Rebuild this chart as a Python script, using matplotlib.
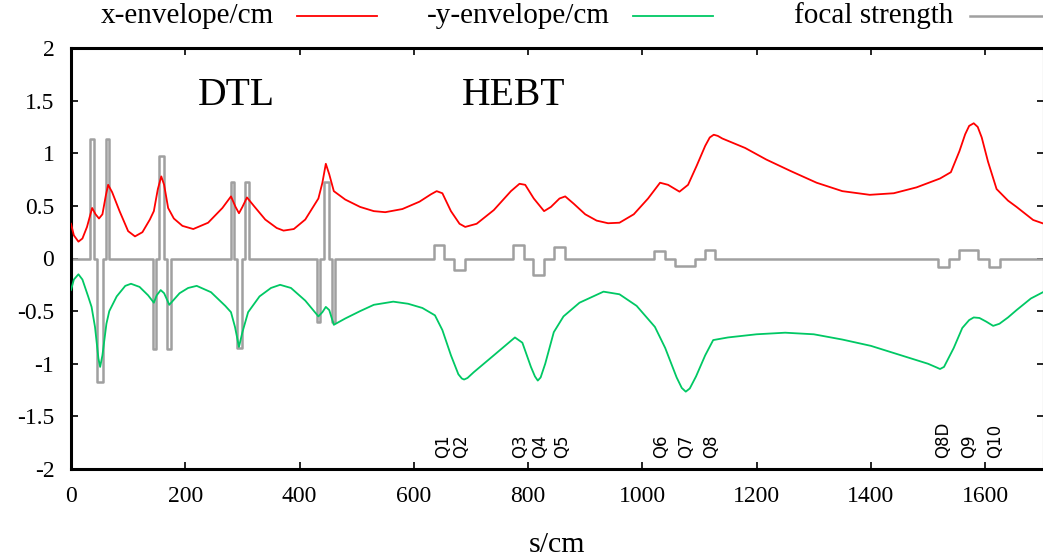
import numpy as np
import matplotlib
matplotlib.use("Agg")
import matplotlib.pyplot as plt
from matplotlib.lines import Line2D

plt.rcParams['axes.unicode_minus'] = False
plt.rcParams['font.family'] = ['Liberation Serif', 'DejaVu Serif']

# x-envelope (cm) along s (cm)
x_s = [0, 5, 13, 20, 28, 37, 43, 49, 55, 61, 65, 72, 85, 100, 112, 125, 138, 145, 152, 158,
       163, 170, 180, 195, 214, 240, 265, 280, 288, 294, 300, 308, 320, 340, 360, 372, 390,
       410, 433, 440, 446, 452, 460, 480, 506, 530, 550, 580, 610, 630, 640, 650, 665, 680,
       690, 710, 740, 770, 785, 795, 810, 828, 840, 855, 865, 880, 900, 920, 940, 960, 985,
       1010, 1031, 1045, 1065, 1080, 1095, 1110, 1118, 1125, 1132, 1140, 1180, 1217, 1260,
       1305, 1350, 1398, 1440, 1480, 1521, 1540, 1555, 1565, 1572, 1580, 1587, 1594, 1605,
       1620, 1640, 1655, 1684, 1703]
x_env = [0.33, 0.22, 0.16, 0.19, 0.30, 0.48, 0.42, 0.38, 0.42, 0.60, 0.70, 0.63, 0.45, 0.26,
         0.21, 0.25, 0.37, 0.45, 0.66, 0.78, 0.70, 0.48, 0.38, 0.31, 0.28, 0.34, 0.48, 0.59,
         0.49, 0.43, 0.49, 0.58, 0.50, 0.37, 0.29, 0.265, 0.28, 0.37, 0.57, 0.72, 0.90, 0.80,
         0.64, 0.56, 0.49, 0.45, 0.44, 0.47, 0.54, 0.61, 0.64, 0.62, 0.45, 0.33, 0.30, 0.33,
         0.46, 0.64, 0.71, 0.70, 0.57, 0.45, 0.49, 0.57, 0.59, 0.52, 0.42, 0.36, 0.335, 0.34,
         0.42, 0.57, 0.72, 0.70, 0.635, 0.70, 0.88, 1.07, 1.15, 1.176, 1.165, 1.14, 1.05, 0.94,
         0.83, 0.72, 0.64, 0.605, 0.62, 0.676, 0.76, 0.82, 1.02, 1.18, 1.26, 1.285, 1.25, 1.15,
         0.92, 0.66, 0.55, 0.49, 0.366, 0.33]

# -y-envelope (cm)
y_s = [0, 5, 13, 20, 30, 36, 42, 48, 51, 55, 62, 67, 80, 95, 105, 120, 135, 145, 150, 157,
       163, 172, 190, 205, 220, 245, 270, 280, 287, 294, 300, 310, 330, 350, 366, 385, 410,
       433, 440, 446, 452, 460, 480, 506, 530, 564, 590, 615, 637, 650, 665, 678, 684, 688,
       694, 705, 740, 777, 790, 805, 812, 817, 822, 830, 845, 862, 890, 932, 960, 990, 1022,
       1040, 1060, 1069, 1076, 1083, 1094, 1110, 1124, 1150, 1200, 1250, 1300, 1350, 1400,
       1450, 1500, 1515, 1521, 1528, 1545, 1560, 1572, 1580, 1590, 1602, 1614, 1625, 1640,
       1655, 1680, 1703]
y_env = [-0.30, -0.20, -0.15, -0.20, -0.36, -0.46, -0.65, -0.95, -1.03, -0.92, -0.62, -0.50,
         -0.36, -0.26, -0.24, -0.27, -0.35, -0.42, -0.35, -0.30, -0.33, -0.44, -0.33, -0.28,
         -0.26, -0.32, -0.45, -0.51, -0.65, -0.84, -0.70, -0.51, -0.36, -0.28, -0.25, -0.28,
         -0.40, -0.55, -0.51, -0.46, -0.49, -0.63, -0.57, -0.50, -0.44, -0.41, -0.43, -0.47,
         -0.54, -0.68, -0.92, -1.10, -1.14, -1.15, -1.135, -1.08, -0.92, -0.75, -0.80, -1.03,
         -1.12, -1.16, -1.13, -1.00, -0.70, -0.55, -0.42, -0.315, -0.34, -0.45, -0.65, -0.85,
         -1.13, -1.23, -1.265, -1.235, -1.12, -0.92, -0.775, -0.75, -0.72, -0.705, -0.72, -0.77,
         -0.83, -0.915, -1.00, -1.035, -1.05, -1.03, -0.85, -0.66, -0.585, -0.56, -0.565,
         -0.60, -0.64, -0.62, -0.56, -0.49, -0.38, -0.315]

# focusing elements: start, end, strength
q_start = [33, 46, 60.5, 143, 154, 168.5, 279.5, 290.5, 304.5, 430.5, 442, 456,
           635, 671, 773, 808, 845, 1020, 1058, 1110, 1518, 1555, 1607]
q_end = [40, 55.5, 66.5, 149, 163, 175, 285, 299, 311, 436.5, 451, 462.5,
         653, 690, 792, 828, 864, 1039, 1092, 1128, 1537, 1588, 1626]
q_k = [1.14, -1.17, 1.14, -0.86, 0.977, -0.86, 0.724, -0.847, 0.724, -0.60, 0.724, -0.60,
       0.128, -0.112, 0.128, -0.16, 0.112, 0.074, -0.068, 0.081, -0.078, 0.079, -0.078]

q_names = ['Q1', 'Q2', 'Q3', 'Q4', 'Q5', 'Q6', 'Q7', 'Q8', 'Q8D', 'Q9', 'Q10']
q_label_s = [651, 683, 786, 821, 859, 1033, 1076, 1120, 1526, 1572, 1617]

# step path for focal strength
fs_s, fs_k = [0], [0]
for a, b, k in zip(q_start, q_end, q_k):
    fs_s += [a, a, b, b]
    fs_k += [0, k, k, 0]
fs_s.append(1703)
fs_k.append(0)

fig = plt.figure(figsize=(10.43, 5.56), dpi=100)
ax = fig.add_axes([71 / 1043, 1 - 469 / 556, (1044 - 71) / 1043, (469 - 48) / 556])

ax.plot(fs_s, fs_k, color='#a0a0a0', linewidth=1.8, zorder=2)
ax.plot(x_s, x_env, color='#ff0000', linewidth=1.3, zorder=3)
ax.plot(y_s, y_env, color='#00c864', linewidth=1.3, zorder=3)

ax.set_xlim(0, 1703)
ax.set_ylim(-2, 2)
ax.set_xticks(np.arange(0, 1700, 200))
ax.set_xticklabels([str(v) for v in range(0, 1700, 200)])
yt = [-2, -1.5, -1, -0.5, 0, 0.5, 1, 1.5, 2]
ax.set_yticks(yt)
ax.set_yticklabels(['-2', '-1.5', '-1', '-0.5', '0', '0.5', '1', '1.5', '2'])
ax.tick_params(direction='in', length=5, width=1.2, top=True, right=True,
               labelsize=17, pad=12)
for sp in ax.spines.values():
    sp.set_linewidth(2.2)

ax.set_xlabel('s/cm', fontsize=21.5, labelpad=18)

ax.text(289, 1.46, 'DTL', fontsize=28.5, ha='center', va='baseline')
ax.text(775, 1.46, 'HEBT', fontsize=28.5, ha='center', va='baseline')

for name, s in zip(q_names, q_label_s):
    ax.text(s, -1.895, name, rotation=90, ha='center', va='bottom',
            fontsize=12, family='DejaVu Sans')

# key above the plot, gnuplot style
key = [('x-envelope/cm', '#ff0000', 274, 297, 377),
       ('-y-envelope/cm', '#00c864', 610, 633, 713),
       ('focal strength', '#a0a0a0', 953, 970, 1050)]
ky = 1 - 16 / 556
for label, col, tx, l0, l1 in key:
    fig.text(tx / 1043, ky, label, fontsize=21, ha='right', va='center')
    fig.add_artist(Line2D([l0 / 1043, l1 / 1043], [ky, ky], color=col,
                          linewidth=1.3 if col != '#a0a0a0' else 1.8,
                          transform=fig.transFigure))

fig.savefig('out.png', dpi=100)
